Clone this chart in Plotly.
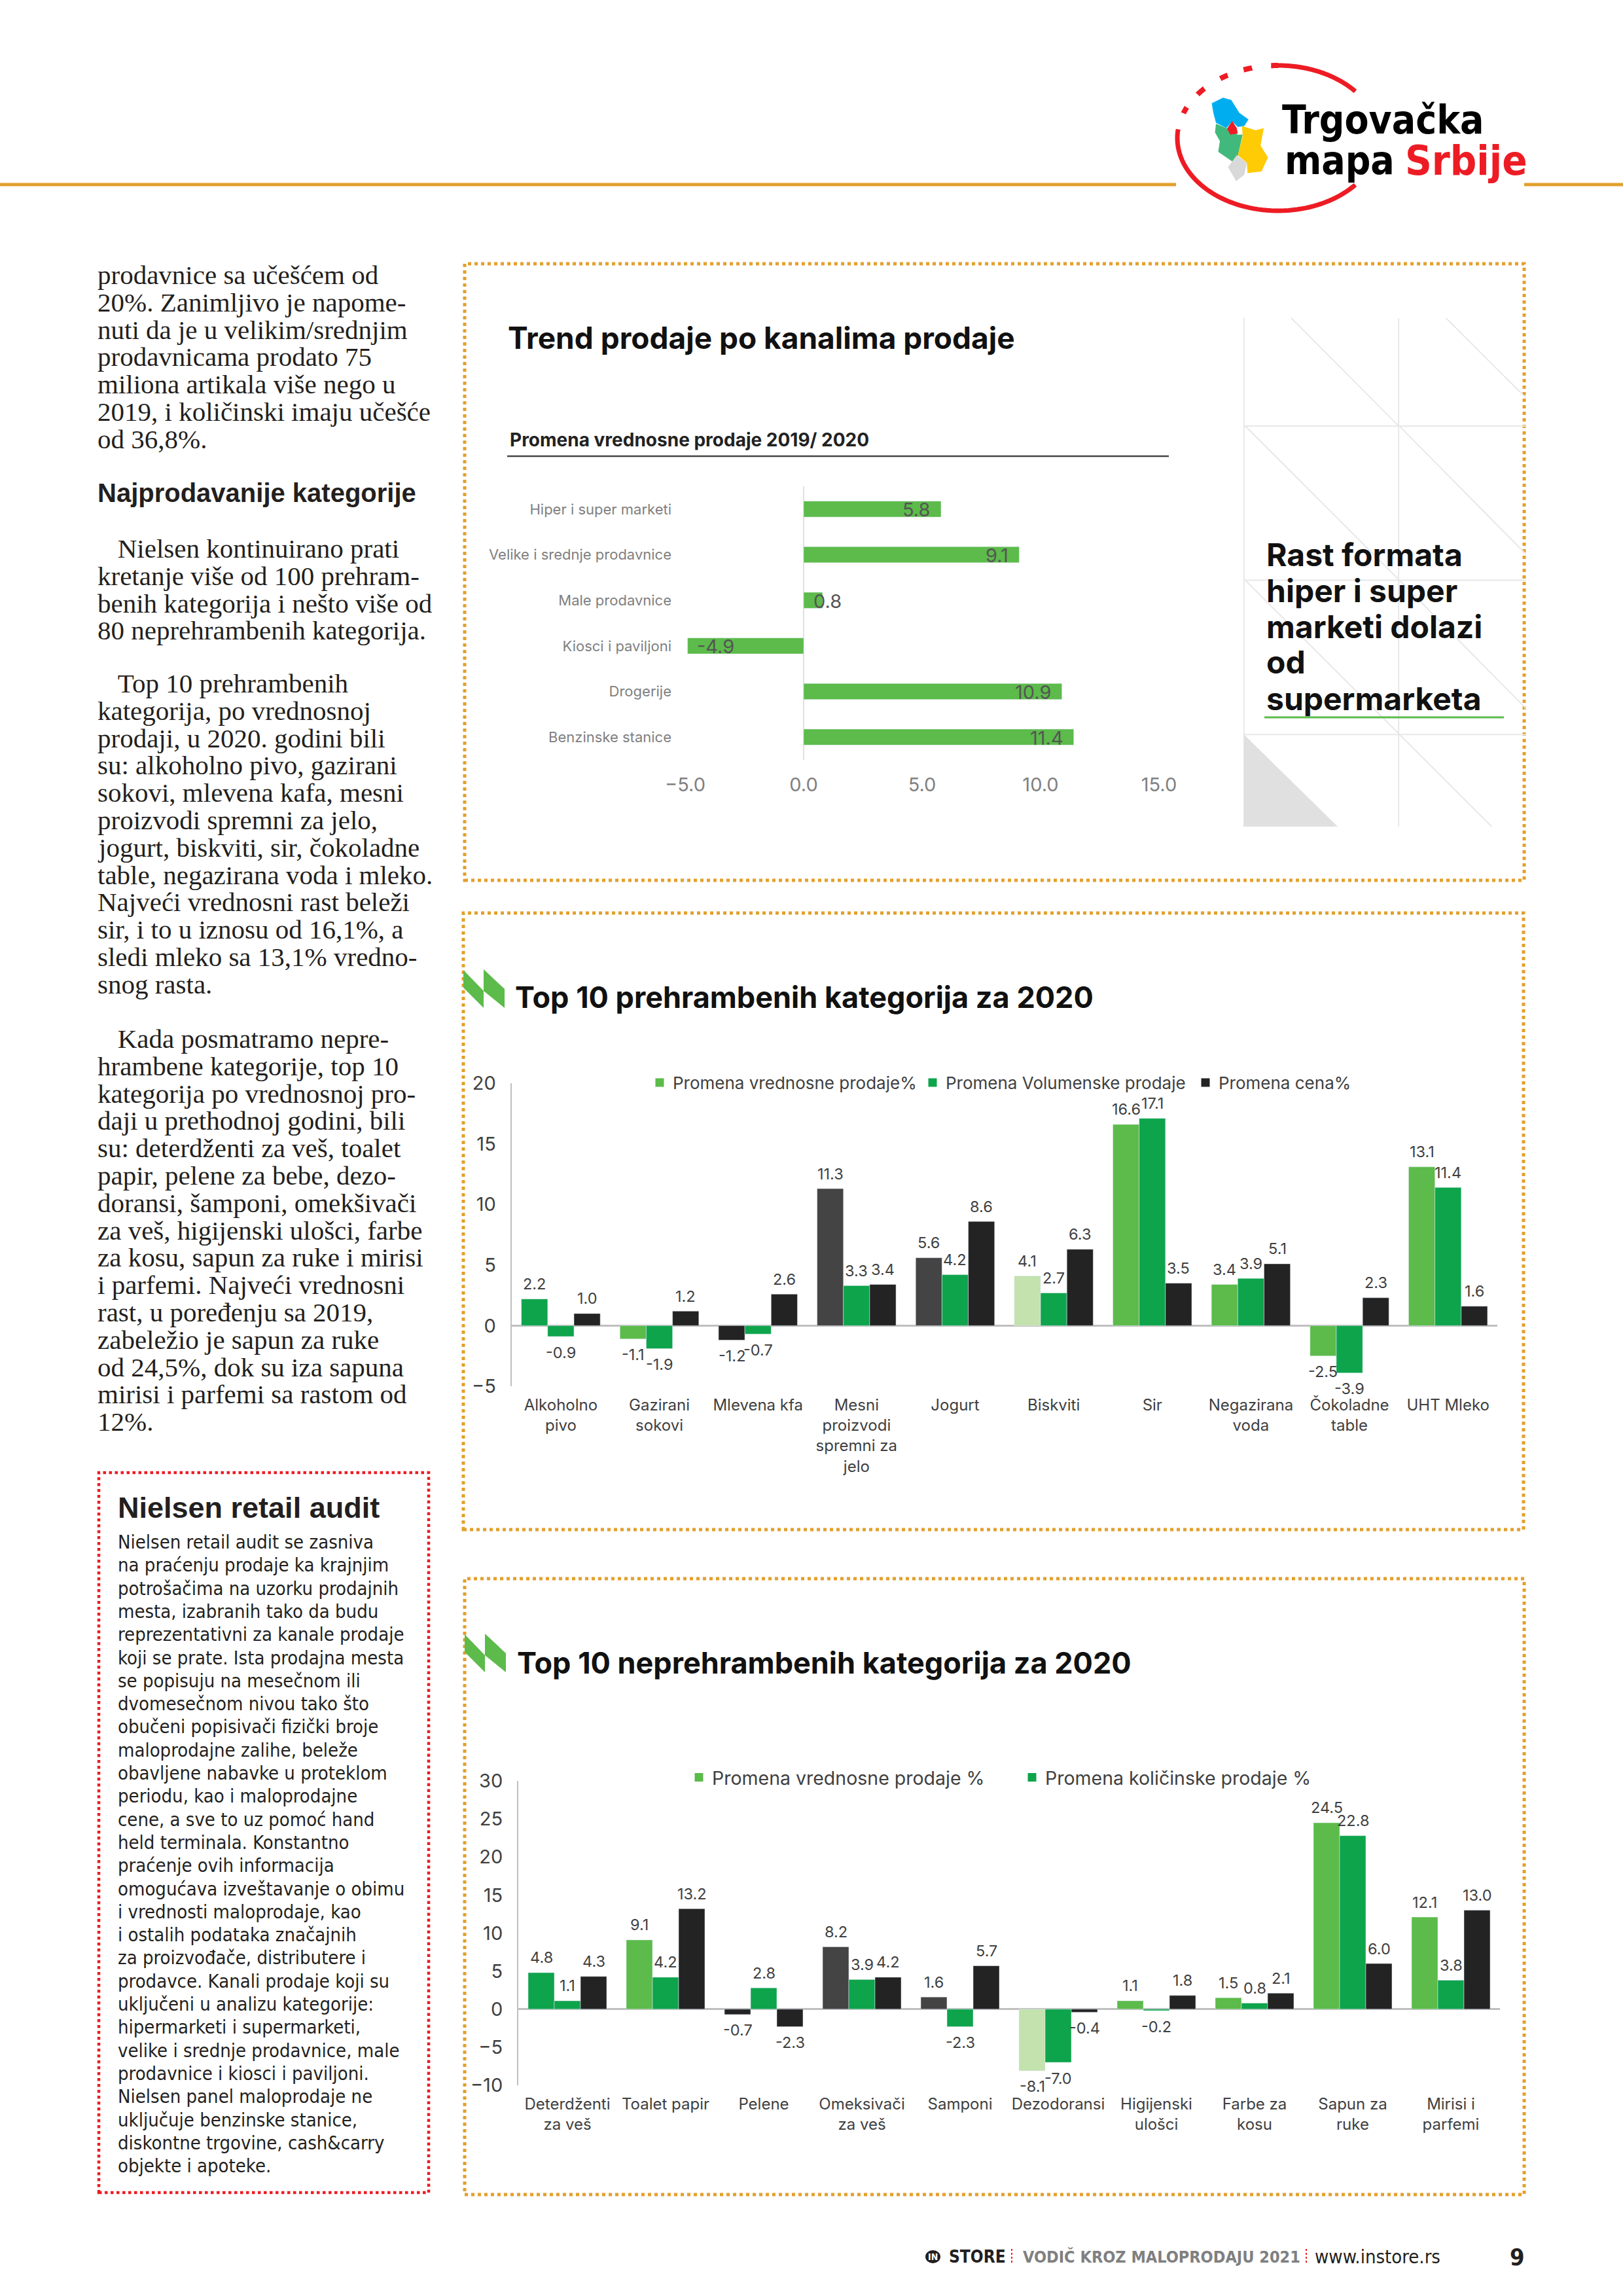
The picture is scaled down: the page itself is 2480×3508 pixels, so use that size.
import math
import plotly.graph_objects as go

W, H = 2480, 3508

# ---------- data ----------
channels = ["Hiper i super marketi", "Velike i srednje prodavnice", "Male prodavnice",
            "Kiosci i paviljoni", "Drogerije", "Benzinske stanice"]
channel_change = [5.8, 9.1, 0.8, -4.9, 10.9, 11.4]

food_cats = ["Alkoholno<br>pivo", "Gazirani<br>sokovi", "Mlevena kfa",
             "Mesni<br>proizvodi<br>spremni za<br>jelo", "Jogurt", "Biskviti", "Sir",
             "Negazirana<br>voda", "Čokoladne<br>table", "UHT Mleko"]
food_value = [2.2, -1.1, -1.2, 11.3, 5.6, 4.1, 16.6, 3.4, -2.5, 13.1]
food_volume = [-0.9, -1.9, -0.7, 3.3, 4.2, 2.7, 17.1, 3.9, -3.9, 11.4]
food_price = [1.0, 1.2, 2.6, 3.4, 8.6, 6.3, 3.5, 5.1, 2.3, 1.6]

nonfood_cats = ["Deterdženti<br>za veš", "Toalet papir", "Pelene", "Omeksivači<br>za veš",
                "Samponi", "Dezodoransi", "Higijenski<br>ulošci", "Farbe za<br>kosu",
                "Sapun za<br>ruke", "Mirisi i<br>parfemi"]
nonfood_value = [4.8, 9.1, -0.7, 8.2, 1.6, -8.1, 1.1, 1.5, 24.5, 12.1]
nonfood_qty = [1.1, 4.2, 2.8, 3.9, -2.3, -7.0, -0.2, 0.8, 22.8, 3.8]
nonfood_third = [4.3, 13.2, -2.3, 4.2, 5.7, -0.4, 1.8, 2.1, 6.0, 13.0]

# ---------- colours ----------
GREEN, DGREEN, BLACK, GREY4, PALE = "#5CBB4A", "#0EA44C", "#232323", "#444444", "#C3E2AE"
ORANGE, RED, TXT = "#E3A02C", "#ED1C24", "#231F20"
food_value_colors = [DGREEN, GREEN, BLACK, GREY4, GREY4, PALE, GREEN, GREEN, GREEN, GREEN]
nonfood_value_colors = [DGREEN, GREEN, BLACK, GREY4, GREY4, PALE, GREEN, GREEN, GREEN, GREEN]

SERIF = "Liberation Serif"
SANS = "Inter"
NARROW = "DejaVu Sans Condensed, Roboto"
HEAD = "Liberation Sans"

# ---------- page text ----------
col_blocks = [
    (420, ["prodavnice sa učešćem od", "20%. Zanimljivo je napome-", "nuti da je u velikim/srednjim",
           "prodavnicama prodato 75", "miliona artikala više nego u", "2019, i količinski imaju učešće",
           "od 36,8%."]),
    (838, ["    Nielsen kontinuirano prati", "kretanje više od 100 prehram-", "benih kategorija i nešto više od",
           "80 neprehrambenih kategorija."]),
    (1044, ["    Top 10 prehrambenih", "kategorija, po vrednosnoj", "prodaji, u 2020. godini bili",
            "su: alkoholno pivo, gazirani", "sokovi, mlevena kafa, mesni", "proizvodi spremni za jelo,",
            "jogurt, biskviti, sir, čokoladne", "table, negazirana voda i mleko.", "Najveći vrednosni rast beleži",
            "sir, i to u iznosu od 16,1%, a", "sledi mleko sa 13,1% vredno-", "snog rasta."]),
    (1587, ["    Kada posmatramo nepre-", "hrambene kategorije, top 10", "kategorija po vrednosnoj pro-",
            "daji u prethodnoj godini, bili", "su: deterdženti za veš, toalet", "papir, pelene za bebe, dezo-",
            "doransi, šamponi, omekšivači", "za veš, higijenski ulošci, farbe", "za kosu, sapun za ruke i mirisi",
            "i parfemi. Najveći vrednosni", "rast, u poređenju sa 2019,", "zabeležio je sapun za ruke",
            "od 24,5%, dok su iza sapuna", "mirisi i parfemi sa rastom od", "12%."]),
]
audit_lines = ["Nielsen retail audit se zasniva", "na praćenju prodaje ka krajnjim", "potrošačima na uzorku prodajnih",
               "mesta, izabranih tako da budu", "reprezentativni za kanale prodaje", "koji se prate. Ista prodajna mesta",
               "se popisuju na mesečnom ili", "dvomesečnom nivou tako što", "obučeni popisivači fizički broje",
               "maloprodajne zalihe, beleže", "obavljene nabavke u proteklom", "periodu, kao i maloprodajne",
               "cene, a sve to uz pomoć hand", "held terminala. Konstantno", "praćenje ovih informacija",
               "omogućava izveštavanje o obimu", "i vrednosti maloprodaje, kao", "i ostalih podataka značajnih",
               "za proizvođače, distributere i", "prodavce. Kanali prodaje koji su", "uključeni u analizu kategorije:",
               "hipermarketi i supermarketi,", "velike i srednje prodavnice, male", "prodavnice i kiosci i paviljoni.",
               "Nielsen panel maloprodaje ne", "uključuje benzinske stanice,", "diskontne trgovine, cash&carry",
               "objekte i apoteke."]

# ---------- helpers ----------
px = lambda x: x / W
py = lambda y: 1 - y / H
annots, shapes = [], []


def text(x, y, s, size, color=TXT, family=SANS, anchor="left"):
    annots.append(dict(x=px(x), y=py(y), xref="paper", yref="paper", text=s, showarrow=False,
                       xanchor=anchor, yanchor="middle", borderpad=0,
                       font=dict(size=size, color=color, family=family)))


def rect(x0, y0, x1, y1, color, width, dash=None, fill=None):
    line = dict(color=color, width=width)
    if dash:
        line["dash"] = dash
    s = dict(type="rect", xref="paper", yref="paper", x0=px(x0), x1=px(x1), y0=py(y1), y1=py(y0), line=line)
    if fill:
        s["fillcolor"] = fill
    shapes.append(s)


def seg(x0, y0, x1, y1, color, width, dash=None):
    line = dict(color=color, width=width)
    if dash:
        line["dash"] = dash
    shapes.append(dict(type="line", xref="paper", yref="paper", x0=px(x0), x1=px(x1), y0=py(y0), y1=py(y1), line=line))


def poly(pts, fill, close=True, line_color=None, lw=0):
    d = "M" + " L".join(f"{px(a):.5f},{py(b):.5f}" for a, b in pts) + (" Z" if close else "")
    s = dict(type="path", xref="paper", yref="paper", path=d, line=dict(width=lw, color=line_color or fill))
    if close:
        s["fillcolor"] = fill
    shapes.append(s)


# ---------- header rule and logo ----------
seg(0, 282, 1797, 282, ORANGE, 5)
seg(2329, 282, W, 282, ORANGE, 5)
CX, CY, RX, RY = 1953, 211, 154, 111


def arc(a0, a1, lw=7):
    n = 60
    pts = []
    for i in range(n + 1):
        a = math.radians(a0 + (a1 - a0) * i / n)
        pts.append((CX + RX * math.cos(a), CY + RY * math.sin(a)))
    poly(pts, RED, close=False, line_color=RED, lw=lw)


arc(-93, -40)          # top solid
arc(40, 187)           # bottom solid
for a0, a1 in [(200, 205), (217, 223), (235, 240), (250, 255), (266, 270)]:
    arc(a0, a1, 8)


def lz(x, y):
    return (1700 + x * 0.497, 60 + y * 0.331)


poly([lz(*p) for p in [(305, 295), (340, 270), (365, 280), (390, 340), (418, 370), (405, 400), (385, 405),
                       (368, 380), (350, 410), (318, 385), (310, 340)]], "#00AEEF")
poly([lz(*p) for p in [(318, 390), (350, 410), (385, 440), (400, 440), (385, 540), (372, 568), (325, 520),
                       (330, 470), (315, 430)]], "#41B97C")
poly([lz(*p) for p in [(398, 400), (440, 420), (465, 410), (455, 490), (478, 545), (458, 610), (415, 618),
                       (413, 570), (385, 535), (400, 450)]], "#FFCB05")
poly([lz(*p) for p in [(382, 535), (413, 570), (405, 625), (380, 655), (355, 590)]], "#D9D9D9")
poly([lz(*p) for p in [(368, 378), (382, 410), (385, 435), (362, 440), (352, 412)]], RED)
text(1958, 183, "<b>Trgovačka</b>", 60, "#000000", NARROW)
text(1962, 245, "<b>mapa</b>", 60, "#000000", NARROW)
text(2146, 245, "<b>Srbije</b>", 63, RED, NARROW)

# ---------- left column ----------
for y0, lines in col_blocks:
    for i, s in enumerate(lines):
        text(148, y0 + i * 41.8, s.replace("    ", "&nbsp;&nbsp;&nbsp;"), 41, TXT, SERIF)
text(148, 753, "<b>Najprodavanije kategorije</b>", 40, TXT, HEAD)

rect(151, 2250, 655, 3350, RED, 4.5, "dot")
text(179, 2303, "<b>Nielsen retail audit</b>", 45, TXT, HEAD)
for i, s in enumerate(audit_lines):
    text(179, 2356 + i * 35.3, s, 29, TXT, NARROW)

# ---------- footer ----------
shapes.append(dict(type="circle", xref="paper", yref="paper", x0=px(1414), x1=px(1437), y0=py(3458), y1=py(3438),
                   fillcolor="#231F20", line=dict(width=0)))
text(1425.5, 3448, "<b>IN</b>", 14, "#FFFFFF", NARROW, "center")
text(1449, 3448, "<b>STORE</b>", 26, TXT, NARROW)
seg(1546, 3436, 1546, 3459, RED, 2, "dot")
text(1562, 3448, "<b>VODIČ KROZ MALOPRODAJU 2021</b>", 25, "#808080", NARROW)
seg(1996, 3436, 1996, 3459, RED, 2, "dot")
text(2008, 3448, "www.instore.rs", 29, TXT, NARROW)
text(2306, 3448, "<b>9</b>", 36, TXT, NARROW)

# ---------- chart frames ----------
rect(710, 403, 2329, 1345, ORANGE, 5, "dot")
rect(708, 1395, 2328, 2337, ORANGE, 5, "dot")
rect(710, 2412, 2329, 3353, ORANGE, 5, "dot")

# ---------- panel in chart 1 ----------
LG = "#E8E8E8"
z1 = lambda x, y: (700 + x * 1.046, 400 + y * 0.612)
for (a, b), (c, d) in [((1148, 140), (1148, 1410)), ((1374, 140), (1374, 1410)),
                       ((1148, 410), (1560, 410)), ((1148, 795), (1560, 795)), ((1148, 1180), (1560, 1180)),
                       ((1217, 140), (1374, 410)), ((1443, 140), (1560, 340)), ((1150, 410), (1375, 795)),
                       ((1375, 410), (1560, 730)), ((1150, 795), (1510, 1410)), ((1375, 795), (1560, 1115))]:
    p, q = z1(a, b), z1(c, d)
    seg(p[0], p[1], q[0], q[1], LG, 2)
poly([z1(1148, 1180), z1(1285, 1410), z1(1148, 1410)], "#E0E0E0")
for y, s in zip([847, 903, 957, 1012, 1068], ["Rast formata", "hiper i super", "marketi dolazi", "od", "supermarketa"]):
    text(1934, y, f"<b>{s}</b>", 48, "#111111", SANS)
seg(1932, 1096, 2298, 1096, GREEN, 3)

# ---------- titles ----------
text(775, 516, "<b>Trend prodaje po kanalima prodaje</b>", 46, "#111111")
text(778, 672, "<b>Promena vrednosne prodaje 2019/ 2020</b>", 28, "#222222")
seg(775, 697, 1786, 697, "#444444", 2.5)
text(786, 1523, "<b>Top 10 prehrambenih kategorija za 2020</b>", 45, "#111111")
text(789, 2540, "<b>Top 10 neprehrambenih kategorija za 2020</b>", 45, "#111111")


def chevrons(x0, y0):
    poly([(x0, y0), (x0 + 31, y0 + 32), (x0 + 31, y0 + 58), (x0, y0 + 27)], GREEN)
    poly([(x0 + 31, y0 - 1), (x0 + 63, y0 + 29), (x0 + 63, y0 + 58), (x0 + 31, y0 + 32)], GREEN)


chevrons(708, 1482)
chevrons(710, 2497)

# ---------- traces ----------
fig = go.Figure()
fig.add_trace(go.Bar(y=channels, x=channel_change, orientation="h", width=0.35, marker_color=GREEN,
                     showlegend=False, xaxis="x", yaxis="y", cliponaxis=False))
for i, v in enumerate(channel_change):
    if v < 0:
        anchor, shift = "left", 12
    elif v < 2:
        anchor, shift = "left", -16
    else:
        anchor, shift = "right", -14
    annots.append(dict(x=v, y=channels[i], xref="x", yref="y", text=f"{v:.1f}", showarrow=False,
                       xanchor=anchor, yanchor="middle", xshift=shift, yshift=-1,
                       font=dict(size=29, color="#555555", family=SANS)))

GAPW = 0.8 / 3


def grouped(cats, series, colors, ax, ay):
    for s, c in zip(series, colors):
        fig.add_trace(go.Bar(x=cats, y=s, marker_color=c, showlegend=False, xaxis=ax, yaxis=ay, cliponaxis=False))
    for j, s in enumerate(series):
        for i, v in enumerate(s):
            annots.append(dict(x=i + (j - 1) * GAPW, y=v, xref=ax, yref=ay, text=f"{v:.1f}", showarrow=False,
                               xanchor="center", yanchor="middle", yshift=23 if v >= 0 else -24,
                               font=dict(size=23.5, color="#404040", family=SANS)))


grouped(food_cats, [food_value, food_volume, food_price], [food_value_colors, DGREEN, BLACK], "x2", "y2")
grouped(nonfood_cats, [nonfood_value, nonfood_qty, nonfood_third], [nonfood_value_colors, DGREEN, BLACK], "x3", "y3")

# legend-only entries, so the key shows the series colour rather than the first bar's
for name, c, ax, ay, lg in [("Promena vrednosne prodaje%", GREEN, "x2", "y2", "legend"),
                            ("Promena Volumenske prodaje", DGREEN, "x2", "y2", "legend"),
                            ("Promena cena%", BLACK, "x2", "y2", "legend"),
                            ("Promena vrednosne prodaje %", GREEN, "x3", "y3", "legend2"),
                            ("Promena količinske prodaje %", DGREEN, "x3", "y3", "legend2")]:
    fig.add_trace(go.Scatter(x=[None], y=[None], mode="markers", name=name, legend=lg, xaxis=ax, yaxis=ay,
                             marker=dict(symbol="square", size=13, color=c)))

tick_c = "#404040"
fig.update_layout(
    width=W, height=H, margin=dict(l=0, r=0, t=0, b=0, pad=0, autoexpand=False),
    paper_bgcolor="white", plot_bgcolor="rgba(0,0,0,0)",
    barmode="group", bargap=0.2, bargroupgap=0, font=dict(family=SANS), showlegend=True,
    annotations=annots, shapes=shapes,
    legend=dict(orientation="h", x=px(988), xanchor="left", y=py(1654), yanchor="middle", entrywidth=372,
                entrywidthmode="pixels", font=dict(size=26, color="#404040", family=SANS), bgcolor="rgba(0,0,0,0)"),
    legend2=dict(orientation="h", x=px(1048), xanchor="left", y=py(2716), yanchor="middle", entrywidth=464,
                 entrywidthmode="pixels", font=dict(size=28.5, color="#404040", family=SANS), bgcolor="rgba(0,0,0,0)"),
    xaxis=dict(domain=[px(1047), px(1771)], range=[-5, 15], dtick=5, tickformat=".1f", anchor="y",
               showgrid=False, zeroline=True, zerolinecolor="#E0E0E0", zerolinewidth=2, showline=False,
               ticks="", ticklabelstandoff=18, tickfont=dict(size=29, color="#808080", family=SANS)),
    yaxis=dict(domain=[py(1161), py(743)], autorange="reversed", anchor="x", showgrid=False, showline=False,
               ticks="", ticklabelstandoff=20, tickfont=dict(size=22, color="#808080", family=SANS)),
    xaxis2=dict(domain=[px(781.6), px(2288)], anchor="y2", showgrid=False, zeroline=False, showline=False,
                ticks="", tickangle=0, ticklabelstandoff=12, tickfont=dict(size=24, color=tick_c, family=SANS)),
    yaxis2=dict(domain=[py(2118), py(1655)], range=[-5, 20], dtick=5, anchor="x2", showgrid=False,
                zeroline=True, zerolinecolor="#BFBFBF", zerolinewidth=3, showline=True, linecolor="#BFBFBF",
                linewidth=2, ticks="", ticklabelstandoff=16, tickfont=dict(size=29, color=tick_c, family=SANS)),
    xaxis3=dict(domain=[px(792), px(2292)], anchor="y3", showgrid=False, zeroline=False, showline=False,
                ticks="", tickangle=0, ticklabelstandoff=12, tickfont=dict(size=24, color=tick_c, family=SANS)),
    yaxis3=dict(domain=[py(3186), py(2721)], range=[-10, 30], dtick=5, anchor="x3", showgrid=False,
                zeroline=True, zerolinecolor="#BFBFBF", zerolinewidth=3, showline=True, linecolor="#BFBFBF",
                linewidth=2, ticks="", ticklabelstandoff=16, tickfont=dict(size=29, color=tick_c, family=SANS)),
)

fig.write_html("out.html", config=dict(displayModeBar=False),
               post_script="document.body.style.margin='0';document.documentElement.style.overflow='hidden';")
